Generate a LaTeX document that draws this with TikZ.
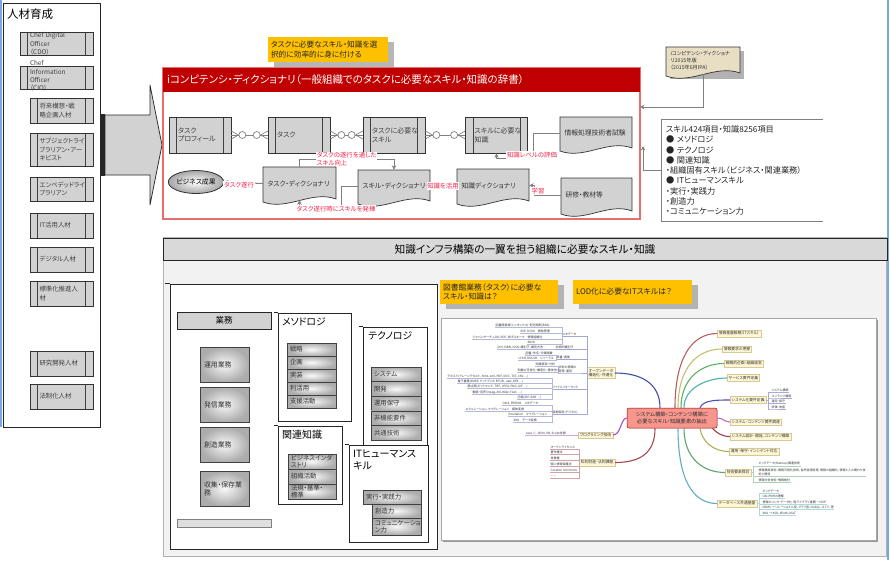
\documentclass[tikz,border=0pt]{standalone}
\usepackage{fontspec}
\setmainfont{Noto Sans CJK JP}[RawFeature=+palt]
\usetikzlibrary{arrows.meta, positioning, calc, shapes.geometric, shadows}
\definecolor{boxgray}{RGB}{210,210,210}
\definecolor{hdrred}{RGB}{192,0,0}
\definecolor{redline}{RGB}{230,110,110}
\definecolor{lblred}{RGB}{245,30,70}
\definecolor{noteyel}{RGB}{255,192,0}
\definecolor{notetan}{RGB}{232,222,196}
\definecolor{panelgray}{RGB}{242,242,242}
\definecolor{hdrgray}{RGB}{217,217,217}
\definecolor{linegray}{RGB}{128,128,128}
\definecolor{frameblue}{RGB}{120,170,225}
\definecolor{mmred}{RGB}{246,150,140}
\definecolor{mmyel}{RGB}{253,247,215}
\definecolor{mmtan}{RGB}{215,200,150}
\definecolor{brrust}{RGB}{185,95,90}
\definecolor{brolive}{RGB}{200,190,110}
\definecolor{brgreen}{RGB}{95,175,95}
\definecolor{brteal}{RGB}{80,175,175}
\definecolor{brblue}{RGB}{80,80,180}
\definecolor{brviolet}{RGB}{190,110,190}
\definecolor{brwine}{RGB}{160,60,80}
\definecolor{brkhaki}{RGB}{175,175,90}
\definecolor{brsea}{RGB}{95,165,110}
\definecolor{brcyan}{RGB}{95,175,190}
\definecolor{brnavy}{RGB}{65,80,170}
\definecolor{brpurple}{RGB}{165,80,195}
\definecolor{brmaroon}{RGB}{165,70,80}

\newcommand{\docfont}{\fontsize{6.8}{8}\selectfont}
% document shape: fill, name, x1, y1, x2, y2, text
\newcommand{\docnode}[7][boxgray]{%
  \pgfmathsetmacro{\dw}{#5-#3}\pgfmathsetmacro{\dtw}{#5-#3-9}\pgfmathsetmacro{\dh}{#6-#4-3}%
  \draw[fill=#1, draw=black!80, line width=0.7pt] (#3,#4) -- (#5,#4) -- (#5,#6-4)
    .. controls ({#5-\dw/3},#6-13) and ({#3+\dw/3},#6+8) .. (#3,#6-1) -- cycle;
  \node[docbox, minimum width=\dw pt, minimum height=\dh pt, text width=\dtw pt] (#2) at ({(#3+#5)/2},{(#4+#6-3)/2}) {#7};}
% zero-or-many link between two boxes
\newcommand{\erlink}[2]{%
  \draw[erline] ([yshift=4pt]#1.east) -- ([xshift=7pt]#1.east) -- ([yshift=-4pt]#1.east);
  \draw[erline] ([yshift=4pt]#2.west) -- ([xshift=-7pt]#2.west) -- ([yshift=-4pt]#2.west);
  \draw[erline] (#1.east) -- ([xshift=7.5pt]#1.east) ([xshift=14.5pt]#1.east) -- ([xshift=-14.5pt]#2.west) ([xshift=-7.5pt]#2.west) -- (#2.west);
  \draw[erline, fill=white] ([xshift=11pt]#1.east) circle[radius=3.5pt] ([xshift=-11pt]#2.west) circle[radius=3.5pt];}

\begin{document}
\begin{tikzpicture}[x=1pt, y=-1pt]
        \useasboundingbox (0,0) rectangle (890,560);
        % Define styles
        \tikzstyle{role} = [rectangle, draw=black!80, line width=0.7pt, fill=boxgray, minimum width=63pt, minimum height=24pt, inner sep=0pt, text width=44pt, align=left, text=black!75, font=\fontsize{6.4}{8.2}\selectfont, path picture={\draw[line width=1pt, black!75] ([xshift=7.5pt]path picture bounding box.north west) -- ([xshift=7.5pt]path picture bounding box.south west) ([xshift=-7.5pt]path picture bounding box.north east) -- ([xshift=-7.5pt]path picture bounding box.south east);}]
        \tikzstyle{roletext} = [inner sep=0pt, text width=56pt, align=left, text=black!75, font=\fontsize{6.4}{8.4}\selectfont]
        \tikzstyle{procbox} = [role, minimum width=62pt, minimum height=36pt, font=\fontsize{7}{8.8}\selectfont]
        \tikzstyle{docbox} = [rectangle, inner sep=0pt, align=left, text=black!80, font=\docfont]
        \tikzstyle{note} = [rectangle, fill=noteyel, align=left, inner sep=3pt, text=black!85, drop shadow={shadow xshift=6pt, shadow yshift=-5pt, fill=black!40, opacity=0.7}]
        \tikzstyle{redlbl} = [rectangle, fill=white, inner sep=0.6pt, text=lblred, align=left, font=\fontsize{6.4}{7.6}\selectfont]
        \tikzstyle{conn} = [draw=linegray, line width=1pt, -{Stealth[length=4.5pt, width=4.5pt]}]
        \tikzstyle{erline} = [draw=linegray, line width=0.7pt]
        \tikzstyle{catbox} = [rectangle, draw=black!85, fill=white, line width=0.8pt, inner sep=0pt]
        \tikzstyle{cattitle} = [anchor=north west, inner sep=0pt, align=left, font=\fontsize{9.8}{11.5}\selectfont]
        \tikzstyle{item} = [rectangle, draw=black!75, line width=0.6pt, inner color=gray!5, outer color=gray!65, inner sep=0pt, align=left, text=black!80, font=\fontsize{6.4}{6.8}\selectfont]
        \tikzstyle{mmnode} = [rectangle, fill=mmyel, draw=mmtan, line width=0.5pt, inner sep=1.5pt, align=center, text=black!80, font=\fontsize{3.8}{4.6}\selectfont]
        \tikzstyle{mmleaf} = [anchor=south west, inner sep=0.4pt, align=left, text=black!80, font=\fontsize{3}{3.5}\selectfont]
        \tikzstyle{branch} = [line width=1.1pt]
        \tikzstyle{subline} = [line width=0.4pt]

        % Window frame
        \draw[frameblue, line width=2pt] (1,0) -- (1,427);
        \draw[frameblue, line width=2pt] (887.5,0) -- (887.5,560);

        % Training panel
        \draw[black!85, line width=0.8pt] (3,3) rectangle (100,427);
        \node[anchor=west, inner sep=0pt, font=\fontsize{11.5}{13}\selectfont] (jt) at (7,14) {人材育成};
        \node[role, minimum width=73pt, minimum height=23pt] (cdo) at (56.5,44) {};
        \node[roletext] (cdot) at (58,44) {Chef Digital\\Officer\\（CDO）};
        \node[role, minimum width=73pt, minimum height=23pt] (cio) at (56.5,77.5) {};
        \node[roletext] (ciot) at (58,76) {Chef\\Information\\Officer\\（CIO）};
        \foreach \t/\y/\h [count=\i] in {{将来構想・戦\\略企画人材}/110.5/25, {サブジェクトライ\\ブラリアン・アー\\キビスト}/149.5/33, {エンベデッドライ\\ブラリアン}/189/24, IT活用人材/225.5/25, デジタル人材/259.5/25, {標準化推進人\\材}/293.5/25, 研究開発人材/363.5/25, 法制化人材/396.5/25}
            \node[role, minimum height=\h pt] (hr\i) at (61.5,\y) {\t};

        % Block arrow
        \draw[fill=boxgray, draw=black!85, line width=0.7pt] (105,115) -- (150,115) -- (150,85) -- (162,145) -- (150,205) -- (150,175) -- (105,175) -- cycle;
        \fill[black!85] (99.5,114) rectangle (105,176);

        % Notes
        \node[note, minimum width=120pt, minimum height=25pt, text width=114pt, font=\fontsize{7.7}{9.5}\selectfont] (n1) at (328,49.5) {タスクに必要なスキル・知識を選\\択的に効率的に身に付ける};

        % Competency dictionary
        \node[draw=redline, line width=1.3pt, minimum width=477pt, minimum height=151pt, inner sep=0pt] (ic) at (401.5,143.5) {};
        \node[fill=hdrred, minimum width=477pt, minimum height=24pt, inner sep=0pt] (ich) at (401.5,80) {};
        \node[anchor=west, inner sep=0pt, text=white, font=\fontsize{10.5}{12}\selectfont] (ict) at (167,80) {iコンピテンシ・ディクショナリ（一般組織でのタスクに必要なスキル・知識の辞書）};

        \node[procbox] (tp) at (200,135) {タスク\\プロフィール};
        \node[procbox] (tk) at (299,135) {タスク};
        \node[procbox] (ts) at (394,135) {タスクに必要な\\スキル};
        \node[procbox] (tn) at (496.5,135) {スキルに必要な\\知識};
        \erlink{tp}{tk}
        \erlink{tk}{ts}
        \erlink{ts}{tn}

        \docnode{exam}{560}{117}{632}{152}{情報処理技術者試験}
        \docnode{tdict}{263}{167}{336}{203}{タスク・ディクショナリ}
        \docnode{sdict}{358}{170}{430}{205}{スキル・ディクショナリ}
        \docnode{kdict}{457}{169}{529}{205}{知識ディクショナリ}
        \docnode{train}{561}{178}{632}{215}{研修・教材等}
        \node[ellipse, draw=black!80, line width=0.8pt, inner color=white, outer color=gray!70, minimum width=50pt, minimum height=23pt, inner sep=0pt, font=\fontsize{6.8}{8}\selectfont] (bs) at (196,182) {ビジネス成果};

        % Connections
        \draw[conn] (tdict.west) -- (bs.east);
        \draw[conn] (tdict.north) -- ++(0,-7) -| (sdict.north);
        \draw[conn] (sdict.west) -- ++(-16,0) -- ++(0,24) -| (tdict.south);
        \draw[conn] (kdict.west) -- (sdict.east);
        \draw[conn] (exam.west) -- ++(-26,0) -- ++(0,25) -| (tn.south);
        \draw[conn] (train.west) -- ++(-26,0) |- (kdict.east);
        \node[redlbl] (lb1) at (239,185) {タスク遂行};
        \node[redlbl, anchor=west] (lb2) at (316,159) {タスクの遂行を通した\\スキル向上};
        \node[redlbl] (lb3) at (336,209) {タスク遂行時にスキルを発揮};
        \node[redlbl] (lb4) at (443,186) {知識を活用};
        \node[redlbl] (lb5) at (532,155) {知識レベルの評価};
        \node[redlbl] (lb6) at (538,191) {学習};

        % Sources
        \fill[black!30] (670,51) rectangle (744,79);
        {\renewcommand{\docfont}{\fontsize{5.2}{7.4}\selectfont}
        \docnode[notetan]{dnote}{666}{47}{740}{77}{iコンピテンシ・ディクショナ\\リ2015年版\\（2015年6月IPA）}}
        \coordinate (icn) at (640,107);
        \draw[conn] (dnote.south) |- (icn);
        \node[minimum width=161pt, minimum height=101pt, inner sep=4pt, text width=153pt, align=left, text=black!85, font=\fontsize{8.2}{10.3}\selectfont] (sk) at (742.5,170.5) {スキル424項目・知識8256項目\\● メソドロジ\\● テクノロジ\\● 関連知識\\・組織固有スキル（ビジネス・関連業務）\\● ITヒューマンスキル\\・実行・実践力\\・創造力\\・コミュニケーション力};
        \draw[linegray, line width=1pt] (sk.north east) -- (sk.north west) -- (sk.south west) -- (sk.south east);
        \coordinate (ics) at (643,146);
        \draw[conn] (sk.west) -| (ics);

        % Knowledge infrastructure panel
        \draw[fill=panelgray, draw=gray!60] (163,237) rectangle (886,556);
        \node[draw=black!85, fill=hdrgray, minimum width=724pt, minimum height=22pt, inner sep=0pt, font=\fontsize{10.7}{12}\selectfont] (kh) at (525,249) {知識インフラ構築の一翼を担う組織に必要なスキル・知識};
        \node[note, minimum width=118pt, minimum height=24pt, text width=112pt, font=\fontsize{7.8}{9.4}\selectfont] (n2) at (499,292) {図書館業務（タスク）に必要な\\スキル・知識は？};
        \node[note, minimum width=119pt, minimum height=24pt, text width=113pt, font=\fontsize{7.8}{9.4}\selectfont] (n3) at (632.5,292) {LOD化に必要なITスキルは？};

        % Tasks and skill categories
        \node[draw=black!85, fill=white, line width=0.8pt, minimum width=267pt, minimum height=265pt, inner sep=0pt] (wb) at (303.5,416.5) {};
        \draw[black!85, line width=0.8pt] ([xshift=-5pt]wb.north west) -- (wb.north west);
        \node[draw=black!85, fill=boxgray, minimum width=94pt, minimum height=17pt, inner sep=0pt, font=\fontsize{8.5}{9.5}\selectfont] (gm) at (224,320.5) {業務};
        \foreach \t/\y [count=\i] in {運用業務/364.5, 発信業務/404.5, 創造業務/444.5, {収集・保存業\\務}/488.5}
            \node[item, minimum width=49pt, minimum height=35pt, text width=41pt, font=\fontsize{6.9}{7.8}\selectfont] (w\i) at (224.5,\y) {\t};
        \node[draw=gray, fill=boxgray!70, minimum width=94pt, minimum height=8pt, inner sep=0pt] (gb) at (224,523) {};

        \node[catbox, minimum width=73pt, minimum height=108pt] (mt) at (314.5,367) {};
        \node[catbox, minimum width=64pt, minimum height=120pt] (tc) at (395,387) {};
        \node[catbox, minimum width=64pt, minimum height=78pt] (kr) at (310,465) {};
        \node[catbox, minimum width=79pt, minimum height=97pt] (hs) at (388.5,493.5) {};
        \foreach \c in {mt, tc, kr, hs}
            \draw[black!85, line width=0.8pt] ([xshift=-4pt]\c.north west) -- (\c.north west);
        \node[cattitle] (mtt) at (282,318) {メソドロジ};
        \node[cattitle] (tct) at (368,331) {テクノロジ};
        \node[cattitle, font=\fontsize{10}{11.5}\selectfont] (krt) at (282,430) {関連知識};
        \node[cattitle, font=\fontsize{10}{11.5}\selectfont] (hst) at (353,450) {ITヒューマンス\\キル};
        \foreach \t [count=\i] in {戦略, 企画, 実装, 利活用, 支援活動}
            \node[item, minimum width=49pt, minimum height=13pt, text width=43pt] (m\i) at (311.5,{336.5+13*\i}) {\t};
        \foreach \t [count=\i] in {システム, 開発, 運用保守, 非機能要件, 共通技術}
            \node[item, minimum width=50pt, minimum height=14.6pt, text width=44pt] (t\i) at (396,{359.7+14.6*\i}) {\t};
        \foreach \t [count=\i] in {{ビジネスインダ\\ストリ}, 組織活動, {法規・基準・\\標準}}
            \node[item, minimum width=48pt, minimum height=15pt, text width=42pt] (k\i) at (312,{446.5+15*\i}) {\t};
        \node[item, minimum width=58pt, minimum height=14pt, text width=52pt] (h1) at (392,497) {実行・実践力};
        \node[item, minimum width=49pt, minimum height=14pt, text width=43pt] (h2) at (396.5,511) {創造力};
        \node[item, minimum width=49pt, minimum height=17pt, text width=43pt] (h3) at (396.5,526.5) {コミュニケーショ\\ン力};

        % Mind map
        \node[draw=gray!70, fill=white, minimum width=435pt, minimum height=222pt, inner sep=0pt, drop shadow={shadow xshift=2pt, shadow yshift=-2pt, fill=black!50, opacity=0.8}] (mm) at (658.5,429) {};
        \node[mmnode, fill=mmred, draw=red!60!black, rounded corners=2pt, minimum width=90pt, minimum height=20pt, inner sep=1pt, font=\fontsize{5.3}{6.6}\selectfont] (cn) at (672,418) {システム構築・コンテンツ構築に\\必要なスキル・知識要素の抽出};

        \node[mmnode, anchor=west] (r1) at (717,333.5) {情報基盤戦略（ITスキル）};
        \node[mmnode, anchor=west] (r2) at (722,349) {情報要求の把握};
        \node[mmnode, anchor=west] (r3) at (724,363.5) {戦略的企画・組織経営};
        \node[mmnode, anchor=west] (r4) at (727,378) {サービス要件定義};
        \node[mmnode, anchor=west] (r5) at (730,400) {システム化要件定義};
        \node[mmnode, anchor=west] (r6) at (730,422) {システム・コンテンツ要件調達};
        \node[mmnode, anchor=west] (r7) at (730,436.5) {システム設計・開発、コンテンツ構築};
        \node[mmnode, anchor=west] (r8) at (729,451.5) {運用・保守・インシデント対応};
        \node[mmnode, anchor=west] (r9) at (725,472.5) {技術要素検討};
        \node[mmnode, anchor=west] (r10) at (717,503.5) {データベース共通基盤};
        \node[mmnode, anchor=east] (la) at (615,373) {オープンデータ\\構造化・共通化};
        \node[mmnode, anchor=east] (lb) at (613,435) {プログラミング技術};
        \node[mmnode, anchor=east] (lc) at (615,462.5) {知的財産・法的課題};

        \draw[branch, brrust] ([xshift=3pt]cn.north) .. controls +(0,-50) and +(-25,0) .. (r1.west);
        \draw[branch, brolive] ([xshift=6pt]cn.north) .. controls +(0,-40) and +(-25,0) .. (r2.west);
        \draw[branch, brgreen] ([xshift=9pt]cn.north) .. controls +(0,-30) and +(-22,0) .. (r3.west);
        \draw[branch, brteal] ([xshift=12pt]cn.north) .. controls +(0,-20) and +(-20,0) .. (r4.west);
        \draw[branch, brblue] ([xshift=28pt]cn.north) .. controls +(3,-8) and +(-12,0) .. (r5.west);
        \draw[branch, brviolet] (cn.east) .. controls +(6,0) and +(-6,0) .. (r6.west);
        \draw[branch, brwine] ([xshift=-5pt]cn.south east) .. controls +(5,5) and +(-8,0) .. (r7.west);
        \draw[branch, brkhaki] ([xshift=28pt]cn.south) .. controls +(2,14) and +(-15,0) .. (r8.west);
        \draw[branch, brsea] ([xshift=12pt]cn.south) .. controls +(0,30) and +(-22,0) .. (r9.west);
        \draw[branch, brcyan] ([xshift=6pt]cn.south) .. controls +(0,50) and +(-25,0) .. (r10.west);
        \draw[branch, brnavy] ([xshift=-12pt]cn.north) .. controls +(0,-25) and +(25,0) .. (la.east);
        \draw[branch, brpurple] (cn.west) .. controls +(-6,0) and +(8,0) .. (lb.east);
        \draw[branch, brmaroon] ([xshift=-17pt]cn.south) .. controls +(0,25) and +(25,0) .. (lc.east);

        % Mind map leaves, right
        \foreach \t/\y [count=\i] in {システム構築/392.5, コンテンツ構築/398, 運用・保守/403.5, 評価・改善/409} {
            \node[mmleaf] (s\i) at (771,\y) {\t};
            \draw[subline, brblue!50] (r5.east) -- ++(2,0) |- (s\i.south west) -- (s\i.south east);
        }
        \foreach \t/\y [count=\i] in {{ビッグデータ(Hadoop)関連技術}/466, {情報検索技術、情報可視化技術、自然言語処理、情報の組織化、情報と人の関わり技\\術と開発}/476, {情報分析技術・情報統計}/482.5} {
            \node[mmleaf] (e\i) at (758,\y) {\t};
            \draw[subline, brsea!50] (r9.east) -- ++(2,0) |- (e\i.south west) -- (e\i.south east);
        }
        \foreach \t/\y [count=\i] in {ビッグデータ/493, {OAI-PMHの理解}/498.5, {情報のリンク・データ化（各ライブラリ連携）→ RDF}/504, {DBMS → リレーショナル型、グラフ型、NoSQL、ストア、等}/509.5, {XML → XSD、XPath、XSLT}/515} {
            \node[mmleaf] (d\i) at (762,\y) {\t};
            \draw[subline, brcyan!50] (r10.east) -- ++(2,0) |- (d\i.south west) -- (d\i.south east);
        }

        % Mind map leaves, left
        \foreach \t/\x/\y [count=\i] in {メタデータ/562/336.5, 永続的識別子/555/349.5, 辞書・典拠/556/359.5, {学術の情報の\\管理・運用}/558/373, ファイルフォーマット/552/389.5, {長期保存(デジタル)}/552/414.5} {
            \node[mmleaf] (g\i) at (\x,\y) {\t};
            \draw[subline, brnavy!50] (g\i.south west) -- (g\i.south east) -| (la.west);
        }
        \foreach \t/\x/\y/\g [count=\i] in {{図書館目録(シンタックス)・記述規則(RDA)}/495/327.5/1, {RDF, DCMI　典拠管理}/520/333.5/1, {ジャパンサーチ、LOD、RDF、RDFスキーマ　情報組織化}/472/339.5/1, SKOS/527/344.5/1, {DOI, ISBN, ISSN, 識別子、識別方法…}/497/349.5/2, 図書・件名・分類語彙/525/355.5/3, {LCSH, NDLSH　シソーラス}/518/360.5/3, 知識表現・分析/535/366.5/4, 知識の可視化・構造化・意味付け/517/372.5/4, {テキスト(プレーンテキスト、html、xml、PDF、DOC、TXT、CSV …)}/447/378.5/5, {電子書籍(XMDF、ドットブック、EPUB、.azw、KF8 …)}/457/383.5/5, {静止画(ビットマップ、TIFF、JPEG、PNG、GIF …)}/467/388.5/5, {動画・音声(mpeg、AVI、WAV、FLAC …)}/472/394.5/5, {圧縮(ZIP、RAR …)}/517/399.5/5, {OAIS, PREMIS　メタデータ}/502/405.5/6, {エミュレーション、マイグレーション　媒体変換}/465/411.5/6, {Emulation　マイグレーション}/508/416.5/6, {XML　データ変換}/513/422.5/6} {
            \node[mmleaf] (f\i) at (\x,\y) {\t};
            \draw[subline, brnavy!40] (f\i.south west) -| (g\g.south west);
        }
        \node[mmleaf] (pj) at (525,435.5) {Java, C, JSON, VB, Script言語};
        \draw[subline, brpurple!50] (pj.south west) -| (lb.west);
        \foreach \t/\y [count=\i] in {オープンライセンス/449.5, 著作権法/454.5, 肖像権/460.5, 個人情報保護法/466.5, {Creative Commons}/472.5, ・・・・/478.5} {
            \node[mmleaf] (c\i) at (550,\y) {\t};
            \draw[subline, brmaroon!50] (c\i.south west) -| (lc.west);
        }
\end{tikzpicture}
\end{document}
